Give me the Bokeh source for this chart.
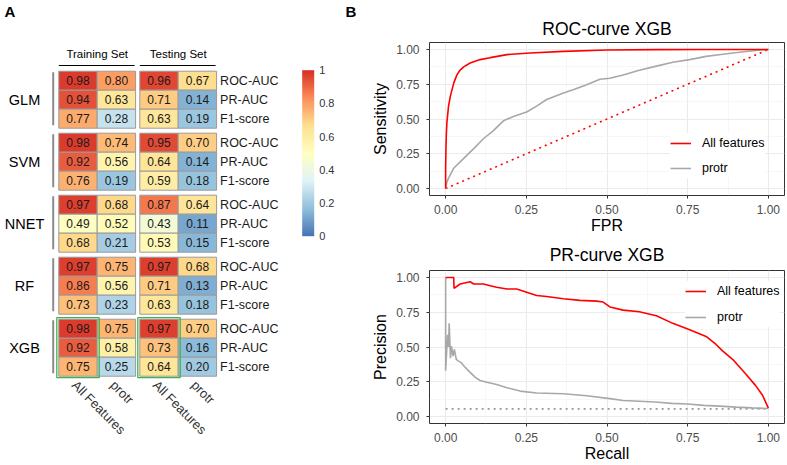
import numpy as np
from bokeh.plotting import figure
from bokeh.models import (Range1d, ColumnDataSource, LinearColorMapper, ColorBar, FixedTicker,
                          Legend, LegendItem, PrintfTickFormatter)
from bokeh.layouts import row, column
from bokeh.core.properties import value
from bokeh.embed import file_html
from bokeh.resources import INLINE

# ---------------- data ----------------
models = ["GLM", "SVM", "NNET", "RF", "XGB"]
metrics = ["ROC-AUC", "PR-AUC", "F1-score"]
feature_sets = ["All Features", "protr"]
set_names = ["Training Set", "Testing Set"]
highlight_model = "XGB"

train_all   = [0.98, 0.94, 0.77, 0.98, 0.92, 0.76, 0.97, 0.49, 0.68, 0.97, 0.86, 0.73, 0.98, 0.92, 0.75]
train_protr = [0.80, 0.63, 0.28, 0.74, 0.56, 0.19, 0.68, 0.52, 0.21, 0.75, 0.56, 0.23, 0.75, 0.58, 0.25]
test_all    = [0.96, 0.71, 0.63, 0.95, 0.64, 0.59, 0.87, 0.43, 0.53, 0.97, 0.71, 0.63, 0.97, 0.73, 0.64]
test_protr  = [0.67, 0.14, 0.19, 0.70, 0.14, 0.18, 0.64, 0.11, 0.15, 0.68, 0.13, 0.18, 0.70, 0.16, 0.20]

colorbar_ticks = [0, 0.2, 0.4, 0.6, 0.8, 1]
colorbar_labels = ["0", "0.2", "0.4", "0.6", "0.8", "1"]

axis_ticks = [0, 0.25, 0.5, 0.75, 1]
axis_minor = [0.125, 0.375, 0.625, 0.875]

roc_all_fpr = [0.000, 0.000, 0.001, 0.002, 0.004, 0.009, 0.0145, 0.025, 0.035, 0.045, 0.056, 0.076,
               0.107, 0.138, 0.190, 0.262, 0.365, 0.500, 0.650, 0.800, 1.000]
roc_all_tpr = [0.000, 0.150, 0.290, 0.380, 0.476, 0.593, 0.663, 0.758, 0.817, 0.852, 0.875, 0.903,
               0.927, 0.941, 0.963, 0.974, 0.986, 0.996, 0.999, 1.000, 1.000]

roc_protr_fpr = [0.000, 0.003, 0.009, 0.025, 0.056, 0.087, 0.117, 0.148, 0.179, 0.210, 0.251, 0.282,
                 0.313, 0.365, 0.395, 0.437, 0.478, 0.509, 0.550, 0.600, 0.653, 0.704, 0.756, 0.807,
                 0.859, 0.910, 0.960, 1.000]
roc_protr_tpr = [0.000, 0.040, 0.075, 0.146, 0.217, 0.287, 0.358, 0.416, 0.487, 0.518, 0.550, 0.593,
                 0.640, 0.687, 0.711, 0.746, 0.786, 0.793, 0.816, 0.850, 0.880, 0.908, 0.927, 0.950,
                 0.965, 0.980, 0.993, 1.000]

chance_x = [0, 1]
chance_y = [0, 1]

pr_all_recall = [0.000, 0.025, 0.026, 0.045, 0.076, 0.087, 0.117, 0.138, 0.158, 0.190, 0.220, 0.251,
                 0.282, 0.313, 0.365, 0.416, 0.468, 0.488, 0.509, 0.550, 0.600, 0.653, 0.704, 0.756,
                 0.807, 0.838, 0.859, 0.890, 0.930, 0.960, 0.982, 1.000]
pr_all_precision = [1.000, 1.000, 0.922, 0.953, 0.969, 0.953, 0.953, 0.941, 0.929, 0.917, 0.917, 0.894,
                    0.870, 0.863, 0.847, 0.835, 0.830, 0.823, 0.788, 0.765, 0.753, 0.725, 0.670, 0.624,
                    0.576, 0.518, 0.470, 0.410, 0.306, 0.224, 0.153, 0.060]

pr_protr_recall = [0.000, 0.000, 0.006, 0.009, 0.011, 0.015, 0.018, 0.023, 0.027, 0.033, 0.039, 0.048,
                   0.056, 0.066, 0.076, 0.092, 0.107, 0.128, 0.158, 0.190, 0.231, 0.282, 0.365, 0.437,
                   0.509, 0.550, 0.600, 0.650, 0.700, 0.750, 0.800, 0.850, 0.900, 0.950, 1.000]
pr_protr_precision = [1.000, 0.330, 0.588, 0.500, 0.670, 0.420, 0.506, 0.435, 0.482, 0.411, 0.400, 0.388,
                      0.365, 0.341, 0.318, 0.282, 0.259, 0.247, 0.231, 0.207, 0.183, 0.169, 0.164, 0.150,
                      0.129, 0.115, 0.110, 0.105, 0.095, 0.090, 0.080, 0.075, 0.068, 0.062, 0.058]

pr_baseline_x = [0, 1]
pr_baseline_y = [0.055, 0.055]

# ---------------- styling ----------------
FONT = "Liberation Sans"
RED = "#FF0000"
GREY = "#A8A8A8"

anchors = ["#4575B4", "#91BFDB", "#E0F3F8", "#FFFFBF", "#FEE090", "#FC8D59", "#D73027"]
anc_rgb = np.array([[int(c[i:i + 2], 16) for i in (1, 3, 5)] for c in anchors], dtype=float)
anc_pos = np.linspace(0, 1, len(anchors))
grid_pos = np.linspace(0, 1, 256)
palette = []
for t in grid_pos:
    rgb = [int(round(np.interp(t, anc_pos, anc_rgb[:, k]))) for k in range(3)]
    palette.append("#%02x%02x%02x" % tuple(rgb))
mapper = LinearColorMapper(palette=palette, low=0, high=1)

# ---------------- heatmap panel (A) ----------------
HW, HH = 360, 464
X0, CW, COLGAP = 58.3, 38.4, 4.2
Y0, RH, GP = 70.7, 19.0, 62.0

heat = figure(width=HW, height=HH, x_range=Range1d(0, HW), y_range=Range1d(HH, 0),
              toolbar_location=None, output_backend="svg", min_border=0,
              x_axis_location=None, y_axis_location=None)
heat.grid.visible = False
heat.outline_line_color = None

columns_vals = [train_all, train_protr, test_all, test_protr]
xs, ys, vs, ts = [], [], [], []
for j, colv in enumerate(columns_vals):
    for g in range(len(models)):
        for m in range(len(metrics)):
            v = colv[g * len(metrics) + m]
            xs.append(X0 + j * CW + (j // 2) * COLGAP + CW / 2)
            ys.append(Y0 + g * GP + m * RH + RH / 2)
            vs.append(v)
            ts.append("%.2f" % v)
src = ColumnDataSource(dict(x=xs, y=ys, v=vs, t=ts))
heat.rect(x="x", y="y", width=CW, height=RH, source=src,
          fill_color={"field": "v", "transform": mapper}, line_color="#9A9A9A", line_width=1)
heat.text(x="x", y="y", text="t", source=src, text_align="center", text_baseline="middle",
          text_font=value(FONT), text_font_size="12px", text_color="#1A1A1A")

# metric labels at right
mx, my, mt = [], [], []
for g in range(len(models)):
    for m, name in enumerate(metrics):
        mx.append(X0 + 4 * CW + COLGAP + 3.5)
        my.append(Y0 + g * GP + m * RH + RH / 2)
        mt.append(name)
heat.text(x=mx, y=my, text=mt, text_align="left", text_baseline="middle",
          text_font=value(FONT), text_font_size="12.5px", text_color="#1A1A1A")

# model group labels and bars
gx = [24] * len(models)
gy = [Y0 + g * GP + 1.5 * RH for g in range(len(models))]
heat.text(x=gx, y=gy, text=models, text_align="center", text_baseline="middle",
          text_font=value(FONT), text_font_size="14.5px", text_color="#000000")
heat.segment(x0=[52.7] * len(models), y0=[Y0 + g * GP + 1 for g in range(len(models))],
             x1=[52.7] * len(models), y1=[Y0 + g * GP + 3 * RH - 3 for g in range(len(models))],
             line_color="#8C8C8C", line_width=2)

# set headers
hx = [X0 + (2 * s + 1) * CW + s * COLGAP for s in range(2)]
heat.text(x=hx, y=[53, 53], text=set_names, text_align="center", text_baseline="middle",
          text_font=value(FONT), text_font_size="11.5px", text_color="#000000")
heat.segment(x0=[X0 + 2 * s * CW + s * COLGAP for s in range(2)], y0=[65, 65],
             x1=[X0 + 2 * s * CW + s * COLGAP + 2 * CW - 1 for s in range(2)], y1=[65, 65],
             line_color="#000000", line_width=1)

# highlight boxes
hg = models.index(highlight_model)
heat.rect(x=[X0 + 2 * s * CW + s * COLGAP + CW / 2 for s in range(2)],
          y=[Y0 + hg * GP + 1.5 * RH] * 2, width=CW + 4, height=3 * RH + 3,
          fill_color=None, line_color="#3CB44B", line_width=1.3)

# rotated column labels
bx, bt = [], []
for j in range(4):
    bx.append(X0 + j * CW + (j // 2) * COLGAP + CW / 2 + 1.5)
    bt.append(feature_sets[j % 2])
heat.text(x=bx, y=[377] * 4, text=bt, angle=-np.pi / 4, text_align="left", text_baseline="top",
          text_font=value(FONT), text_font_size="13px", text_color="#333333")

heat.text(x=[4, 345], y=[2, 2], text=["A", "B"], text_align="left", text_baseline="top",
          text_font=value(FONT), text_font_size="15px", text_font_style="bold", text_color="#000000")

cb = ColorBar(color_mapper=mapper, location=(301.7, HH - 235.7), width=12, height=166, padding=0,
              ticker=FixedTicker(ticks=colorbar_ticks),
              major_label_overrides={t: l for t, l in zip(colorbar_ticks, colorbar_labels)},
              major_label_text_font=FONT, major_label_text_font_size="11px",
              major_label_text_color="#333333", label_standoff=5,
              major_tick_line_color=None, minor_tick_line_color=None, bar_line_color=None,
              background_fill_alpha=0, border_line_color=None)
heat.add_layout(cb)


# ---------------- curve panels (B) ----------------
def curve_fig(title, height, top, bottom, xlabel, ylabel, title_standoff):
    p = figure(width=426, height=height, x_range=Range1d(-0.05, 1.05), y_range=Range1d(-0.05, 1.05),
               toolbar_location=None, output_backend="svg", min_border_left=69, min_border_right=2,
               min_border_top=top, min_border_bottom=bottom, title=title,
               x_axis_label=xlabel, y_axis_label=ylabel)
    p.title.align = "center"
    p.title.text_font = FONT
    p.title.text_font_size = "17.5px"
    p.title.text_font_style = "normal"
    p.title.text_color = "#000000"
    p.title.standoff = title_standoff
    p.outline_line_color = "#333333"
    p.outline_line_width = 1
    for ax in p.axis:
        ax.ticker = FixedTicker(ticks=axis_ticks, minor_ticks=axis_minor)
        ax.formatter = PrintfTickFormatter(format="%.2f")
        ax.axis_line_color = None
        ax.major_tick_line_color = "#333333"
        ax.major_tick_out = 3
        ax.major_tick_in = 0
        ax.minor_tick_line_color = None
        ax.major_label_text_font = FONT
        ax.major_label_text_font_size = "12px"
        ax.major_label_text_color = "#4D4D4D"
        ax.axis_label_text_font = FONT
        ax.axis_label_text_font_size = "16px"
        ax.axis_label_text_font_style = "normal"
        ax.axis_label_text_color = "#000000"
    p.yaxis.major_label_standoff = 6
    p.yaxis.axis_label_standoff = 4
    p.xaxis.major_label_standoff = 5
    p.xaxis.axis_label_standoff = 0
    p.grid.grid_line_color = "#EBEBEB"
    p.grid.grid_line_width = 1.1
    p.grid.minor_grid_line_color = "#F2F2F2"
    p.grid.minor_grid_line_width = 0.6
    return p


roc = curve_fig("ROC-curve XGB", 236, 42, 41, "FPR", "Sensitivity", 7)
roc.line(chance_x, chance_y, line_color=RED, line_width=1.6, line_dash="2 4")
r_pro = roc.line(roc_protr_fpr, roc_protr_tpr, line_color=GREY, line_width=1.6)
r_all = roc.line(roc_all_fpr, roc_all_tpr, line_color=RED, line_width=1.6)
leg1 = Legend(items=[LegendItem(label="All features", renderers=[r_all]),
                     LegendItem(label="protr", renderers=[r_pro])],
              location=(241, 17), glyph_width=21, glyph_height=20, spacing=5, padding=5, margin=0,
              label_standoff=11, label_text_font=FONT, label_text_font_size="12.5px",
              label_text_color="#000000", background_fill_color="white", background_fill_alpha=1,
              border_line_color=None)
roc.add_layout(leg1)

pr = curve_fig("PR-curve XGB", 228, 34, 41, "Recall", "Precision", 12)
pr.line(pr_baseline_x, pr_baseline_y, line_color="#999999", line_width=1.6, line_dash="2 4")
p_pro = pr.line(pr_protr_recall, pr_protr_precision, line_color=GREY, line_width=1.6)
p_all = pr.line(pr_all_recall, pr_all_precision, line_color=RED, line_width=1.6)
leg2 = Legend(items=[LegendItem(label="All features", renderers=[p_all]),
                     LegendItem(label="protr", renderers=[p_pro])],
              location=(256, 96), glyph_width=21, glyph_height=20, spacing=6, padding=2, margin=0,
              label_standoff=11, label_text_font=FONT, label_text_font_size="12.5px",
              label_text_color="#000000", background_fill_color="white", background_fill_alpha=1,
              border_line_color=None)
pr.add_layout(leg2)

layout = row(heat, column(roc, pr))
open("out.html", "w").write(file_html(layout, INLINE))
